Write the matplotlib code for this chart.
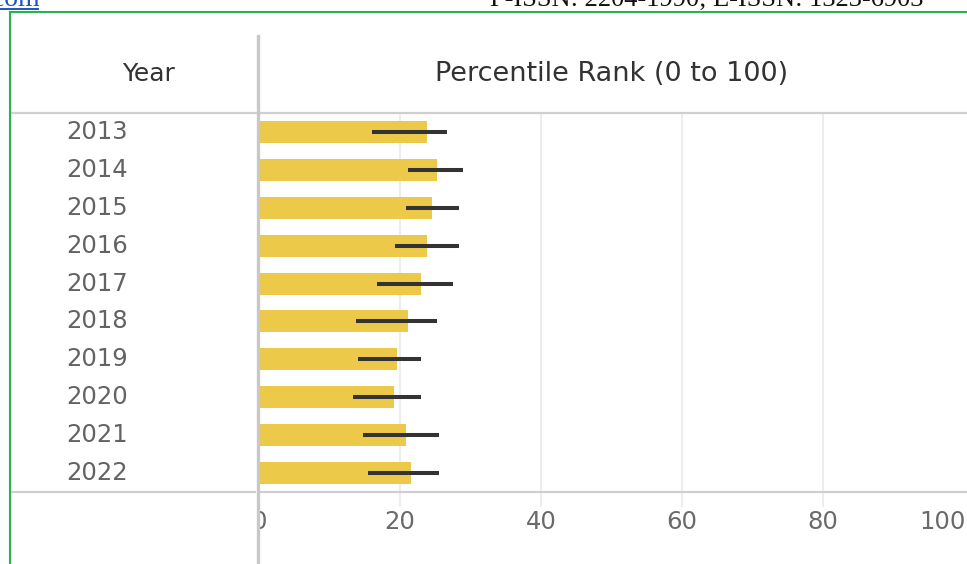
import matplotlib.pyplot as plt
from matplotlib.lines import Line2D
from matplotlib.patches import Rectangle
from matplotlib.transforms import blended_transform_factory

years = ["2013", "2014", "2015", "2016", "2017", "2018", "2019", "2020", "2021", "2022"]
rank = [23.8, 25.3, 24.5, 23.8, 23.0, 21.1, 19.6, 19.2, 20.8, 21.5]
rank_low = [16.0, 21.2, 20.8, 19.3, 16.7, 13.7, 14.0, 13.3, 14.8, 15.5]
rank_high = [26.7, 29.0, 28.3, 28.3, 27.5, 25.2, 23.0, 23.0, 25.6, 25.6]
ticks = [0, 20, 40, 60, 80, 100]

W, H = 967, 564
fig = plt.figure(figsize=(W / 100, H / 100), dpi=100)
fig.patch.set_facecolor("white")


def fx(px):
    return px / W


def fy(py):
    return 1 - py / H


ax = fig.add_axes([fx(259), fy(492), fx(964) - fx(259), fy(113) - fy(492)])
ax.set_xlim(0, 100)
ax.set_ylim(len(years) - 0.5, -0.5)
for s in ax.spines.values():
    s.set_visible(False)
ax.set_xticks([])
ax.set_yticks([])

# light vertical gridlines running a little below the axis
for t in ticks[1:-1]:
    ax.add_line(Line2D([t, t], [-0.5, len(years) - 0.5 + 0.37], color="#ececec",
                       lw=1.3, clip_on=False, zorder=0))

pos = list(range(len(years)))
ax.barh(pos, rank, height=0.58, color="#ecc948", zorder=2)
ax.hlines(pos, rank_low, rank_high, color="#333333", lw=2.9, zorder=3)

# tick labels under the axis
for t in ticks:
    ax.text(t if t < 100 else 100.3, len(years) - 0.5 + 0.78, str(t),
            ha="center" if t < 100 else "right", va="center",
            fontsize=17.5, color="#6a6a6a", clip_on=False)

# year labels in the left column
trans = blended_transform_factory(fig.transFigure, ax.transData)
for i, y in enumerate(years):
    ax.text(fx(97), i, y, transform=trans, ha="center", va="center",
            fontsize=17.5, color="#636363", clip_on=False)

# column headers
fig.text(fx(149), fy(74), "Year", ha="center", va="center", fontsize=18, color="#333333")
fig.text(fx(612), fy(74), "Percentile Rank (0 to 100)", ha="center", va="center",
         fontsize=19.5, color="#333333")

# hide left half of the "0" label behind the column divider
fig.add_artist(Rectangle((fx(232), fy(540)), fx(259) - fx(232), fy(500) - fy(540),
                         transform=fig.transFigure, facecolor="white",
                         edgecolor="none", zorder=5))

grey = "#cfcfcf"
fig.add_artist(Line2D([fx(10), 1], [fy(113), fy(113)], color=grey, lw=1.6, zorder=6))
fig.add_artist(Line2D([fx(10), fx(255)], [fy(492), fy(492)], color=grey, lw=1.6, zorder=6))
fig.add_artist(Line2D([fx(259), 1], [fy(492), fy(492)], color=grey, lw=1.6, zorder=6))
fig.add_artist(Line2D([fx(258), fx(258)], [fy(36), 0], color="#c8c8c8", lw=2.4, zorder=6))

# page frame and running header
green = "#2ab150"
fig.add_artist(Line2D([fx(10), 1], [fy(12), fy(12)], color=green, lw=1.5, zorder=6))
fig.add_artist(Line2D([fx(10), fx(10)], [fy(12), 0], color=green, lw=1.5, zorder=6))
fig.text(fx(-8), fy(6), "com", ha="left", va="baseline", fontsize=20,
         family="Liberation Serif", color="#1a56c4")
fig.add_artist(Line2D([0, fx(38)], [fy(9), fy(9)], color="#1a56c4", lw=1.4))
fig.text(fx(490), fy(6), "P-ISSN: 2204-1990; E-ISSN: 1323-6903", ha="left",
         va="baseline", fontsize=19, family="Liberation Serif", color="#111111")

fig.savefig("out.png", dpi=100)
